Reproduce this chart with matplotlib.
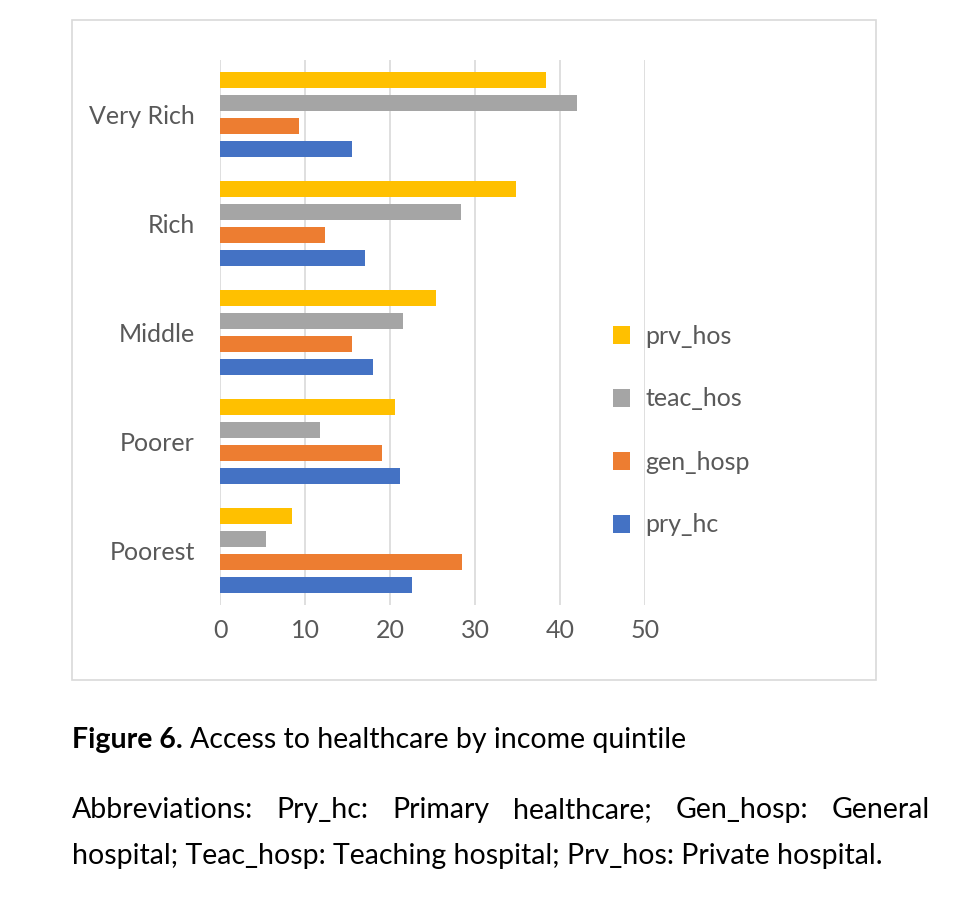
import matplotlib
matplotlib.use("Agg")
import matplotlib.pyplot as plt
from matplotlib.patches import Rectangle

categories = ["Poorest", "Poorer", "Middle", "Rich", "Very Rich"]
pry_hc = [22.6, 21.2, 18.0, 17.0, 15.5]
gen_hosp = [28.5, 19.1, 15.5, 12.4, 9.3]
teac_hos = [5.4, 11.8, 21.5, 28.3, 42.0]
prv_hos = [8.5, 20.6, 25.4, 34.8, 38.3]
series = [("pry_hc", pry_hc, "#4472C4"), ("gen_hosp", gen_hosp, "#ED7D31"),
          ("teac_hos", teac_hos, "#A5A5A5"), ("prv_hos", prv_hos, "#FFC000")]

plt.rcParams['font.family'] = ['Lato', 'DejaVu Sans']
W, H = 958, 914
fig = plt.figure(figsize=(W/100, H/100), dpi=100)
fig.patches.append(Rectangle((72/W, 1-680/H), (876-72)/W, (680-20)/H, transform=fig.transFigure,
                             fill=False, edgecolor="#D9D9D9", linewidth=1.2))
ax = fig.add_axes([220/W, 1-605/H, (645-220)/W, 545/H])
offs = [-0.315, -0.105, 0.105, 0.315]
for (name, vals, col), o in zip(series, offs):
    ax.barh([i + o for i in range(len(categories))], vals, height=0.15, color=col, label=name)
ax.set_xlim(0, 50)
ax.set_ylim(-0.5, 4.5)
ax.set_xticks(range(0, 51, 10))
ax.set_yticks(range(len(categories)))
ax.set_yticklabels(categories)
ax.tick_params(length=0, labelsize=18, labelcolor="#595959", pad=10)
ax.tick_params(axis='y', pad=18)
ax.grid(axis='x', color="#D9D9D9", linewidth=1.2)
ax.set_axisbelow(True)
for s in ax.spines.values():
    s.set_visible(False)
h, l = ax.get_legend_handles_labels()
fig.legend(h[::-1], l[::-1], loc="upper left", bbox_to_anchor=(590/W, 1-302/H), frameon=False,
           fontsize=18, labelcolor="#595959", handlelength=0.7, handleheight=0.7,
           handletextpad=0.6, labelspacing=1.6)

yb = 1-748/H
t0 = fig.text(72/W, yb, "Figure 6.", fontsize=20.5, va="baseline", fontweight="bold")
fig.canvas.draw()
r = fig.canvas.get_renderer()
bb = t0.get_window_extent(r)
fig.text((bb.x1 + 7)/W, yb, "Access to healthcare by income quintile", fontsize=20.5, va="baseline")

words = "Abbreviations: Pry_hc: Primary healthcare; Gen_hosp: General".split()
ts = [fig.text(0, 1-818/H, w, fontsize=20.5, va="baseline") for w in words]
fig.canvas.draw()
widths = [t.get_window_extent(r).width for t in ts]
gap = (930 - 72 - sum(widths)) / (len(words) - 1)
x = 72
for t, w in zip(ts, widths):
    t.set_x(x/W)
    x += w + gap
fig.text(72/W, 1-864/H, "hospital; Teac_hosp: Teaching hospital; Prv_hos: Private hospital.",
         fontsize=20.5, va="baseline")
fig.savefig("out.png", dpi=100)
